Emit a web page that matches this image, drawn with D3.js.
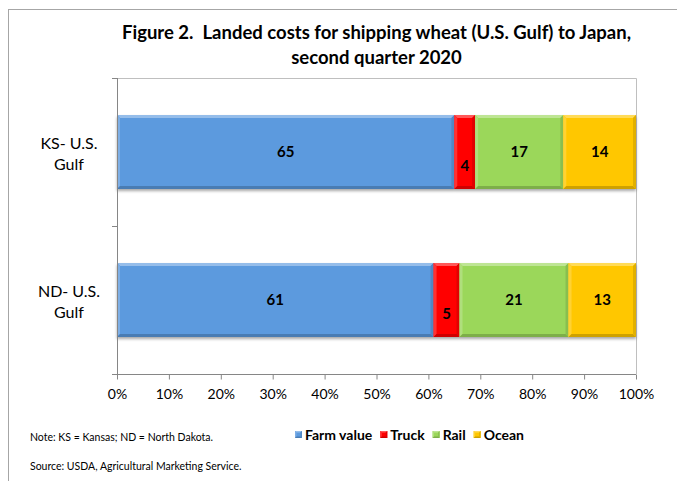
<!DOCTYPE html>
<html>
<head>
<meta charset="utf-8">
<script src="https://cdn.jsdelivr.net/npm/d3@7"></script>
<style>
  body { margin: 0; background: #fff; }
  svg { display: block; font-family: Lato, "Open Sans", sans-serif; }
</style>
</head>
<body>
<div id="chart"></div>
<script>
// data
let categories = ['KS- U.S. Gulf', 'ND- U.S. Gulf'];
let catLines = [['KS- U.S.', 'Gulf'], ['ND- U.S.', 'Gulf']];
let seriesNames = ['Farm value', 'Truck', 'Rail', 'Ocean'];
let farmValue = [65, 61];
let truck = [4, 5];
let rail = [17, 21];
let ocean = [14, 13];
let xTicks = [0, 10, 20, 30, 40, 50, 60, 70, 80, 90, 100];
let titleLines = ['Figure 2.  Landed costs for shipping wheat (U.S. Gulf) to Japan,', 'second quarter 2020'];
let noteText = 'Note: KS = Kansas; ND = North Dakota.';
let sourceText = 'Source: USDA, Agricultural Marketing Service.';

let colors = ['#5c9ade', '#ff0000', '#9bd75a', '#ffc700'];

let W = 677, H = 481;
let plot = {left: 117, right: 636, top: 78, bottom: 374};

let svg = d3.select('#chart').append('svg')
    .attr('width', W)
    .attr('height', H);

// soft shadow for bars
let defs = svg.append('defs');
let f = defs.append('filter').attr('id', 'shadow')
    .attr('x', '-5%').attr('y', '-10%').attr('width', '110%').attr('height', '130%');
f.append('feGaussianBlur').attr('in', 'SourceAlpha').attr('stdDeviation', 1.5);
f.append('feOffset').attr('dx', 0).attr('dy', 2).attr('result', 'blur');
f.append('feComponentTransfer').append('feFuncA').attr('type', 'linear').attr('slope', 0.35);
let merge = f.append('feMerge');
merge.append('feMergeNode');
merge.append('feMergeNode').attr('in', 'SourceGraphic');

// outer frame (top and left only visible)
svg.append('line').attr('x1', 8).attr('y1', 9.5).attr('x2', W).attr('y2', 9.5)
    .style('stroke', '#a6a6a6').style('stroke-width', 1);
svg.append('line').attr('x1', 8.5).attr('y1', 9).attr('x2', 8.5).attr('y2', H)
    .style('stroke', '#a6a6a6').style('stroke-width', 1);

// title
svg.append('g').selectAll('text')
    .data(titleLines)
    .enter().append('text')
    .attr('x', (plot.left + plot.right) / 2)
    .attr('y', (d, i) => 39 + i * 25)
    .attr('text-anchor', 'middle')
    .style('white-space', 'pre')
    .style('font-weight', 'bold')
    .style('font-size', '18.5px')
    .style('fill', '#000')
    .text(d => d);

// scales
let x = d3.scaleLinear().domain([0, 100]).range([plot.left, plot.right]);
let y = d3.scaleBand()
    .domain(categories)
    .range([plot.top, plot.bottom])
    .paddingInner(0.5)
    .paddingOuter(0.25);

// plot area border (top, right)
svg.append('path')
    .attr('d', `M${plot.left},${plot.top + 0.5}H${plot.right + 0.5}V${plot.bottom}`)
    .style('fill', 'none')
    .style('stroke', '#bfbfbf');

// stacked data
let rows = categories.map((c, i) => ({
    cat: c, 'Farm value': farmValue[i], 'Truck': truck[i], 'Rail': rail[i], 'Ocean': ocean[i]
}));
let stacked = d3.stack().keys(seriesNames)(rows);

function bevelRect(g, x0, y0, w, h, c, b) {
    let base = d3.color(c);
    g.append('rect').attr('x', x0).attr('y', y0).attr('width', w).attr('height', h)
        .style('fill', c);
    let light = d3.interpolateRgb(c, '#ffffff')(0.35);
    let lightS = d3.interpolateRgb(c, '#ffffff')(0.2);
    let dark = base.darker(0.6).toString();
    let darkS = base.darker(0.35).toString();
    let polys = [
        [[x0, y0], [x0 + w, y0], [x0 + w - b, y0 + b], [x0 + b, y0 + b], light],
        [[x0, y0], [x0 + b, y0 + b], [x0 + b, y0 + h - b], [x0, y0 + h], lightS],
        [[x0, y0 + h], [x0 + b, y0 + h - b], [x0 + w - b, y0 + h - b], [x0 + w, y0 + h], dark],
        [[x0 + w, y0], [x0 + w, y0 + h], [x0 + w - b, y0 + h - b], [x0 + w - b, y0 + b], darkS]
    ];
    polys.forEach(p => {
        g.append('polygon')
            .attr('points', p.slice(0, 4).map(q => q.join(',')).join(' '))
            .style('fill', p[4]);
    });
}

let barG = svg.append('g').attr('filter', 'url(#shadow)');
stacked.forEach((layer, k) => {
    layer.forEach(d => {
        let x0 = x(d[0]), x1 = x(d[1]);
        bevelRect(barG, x0, y(d.data.cat), x1 - x0, y.bandwidth(), colors[k], 3);
    });
});

// value labels
let labG = svg.append('g');
stacked.forEach((layer, k) => {
    layer.forEach(d => {
        let v = d[1] - d[0];
        let cx = (x(d[0]) + x(d[1])) / 2;
        let cy = y(d.data.cat) + y.bandwidth() / 2;
        // narrow segments: Excel pushed the label lower
        if (v < 6) cy += 14;
        labG.append('text')
            .attr('x', cx)
            .attr('y', cy + 5)
            .attr('text-anchor', 'middle')
            .style('font-weight', 'bold')
            .style('font-size', '15px')
            .style('fill', '#000')
            .text(v);
    });
});

// y axis line and ticks
let axisColor = '#868686';
svg.append('line')
    .attr('x1', plot.left + 0.5).attr('y1', plot.top)
    .attr('x2', plot.left + 0.5).attr('y2', plot.bottom)
    .style('stroke', axisColor);
let bounds = d3.range(categories.length + 1).map(i => plot.top + i * (plot.bottom - plot.top) / categories.length);
svg.selectAll('.ytick').data(bounds).enter().append('line')
    .attr('x1', plot.left - 5).attr('x2', plot.left)
    .attr('y1', d => Math.round(d) + 0.5).attr('y2', d => Math.round(d) + 0.5)
    .style('stroke', axisColor);

// category labels
categories.forEach((c, i) => {
    let cy = y(c) + y.bandwidth() / 2;
    svg.append('g').selectAll('text')
        .data(catLines[i])
        .enter().append('text')
        .attr('x', 69)
        .attr('y', (d, j) => cy - 3 + j * 21)
        .attr('text-anchor', 'middle')
        .style('font-size', '16px')
        .style('fill', '#000')
        .text(d => d);
});

// x axis
let xAxis = d3.axisBottom(x)
    .tickValues(xTicks)
    .tickSize(5)
    .tickPadding(10)
    .tickFormat(d => d + '%');
let gx = svg.append('g')
    .attr('transform', `translate(0, ${plot.bottom + 0.5})`)
    .call(xAxis);
gx.select('.domain').attr('d', `M${plot.left},0H${plot.right}`).style('stroke', axisColor);
gx.selectAll('.tick line').style('stroke', axisColor);
gx.selectAll('.tick text')
    .style('font-family', 'Lato, "Open Sans", sans-serif')
    .style('font-size', '14px')
    .style('fill', '#000');

// legend
let legend = svg.append('g');
let lx = 295, ly = 435;
seriesNames.forEach((s, i) => {
    let item = legend.append('g');
    bevelRect(item, lx, ly - 4, 7, 7, colors[i], 1.5);
    let t = item.append('text')
        .attr('x', lx + 10)
        .attr('y', ly + 5)
        .style('font-weight', 'bold')
        .style('font-size', '14px')
        .style('fill', '#000')
        .text(s);
    lx += 10 + t.node().getComputedTextLength() + 8;
});

// notes
svg.append('text')
    .attr('x', 30).attr('y', 441)
    .style('font-size', '10.5px')
    .style('fill', '#000')
    .text(noteText);
svg.append('text')
    .attr('x', 30).attr('y', 470)
    .style('font-size', '10.5px')
    .style('fill', '#000')
    .text(sourceText);
</script>
</body>
</html>
